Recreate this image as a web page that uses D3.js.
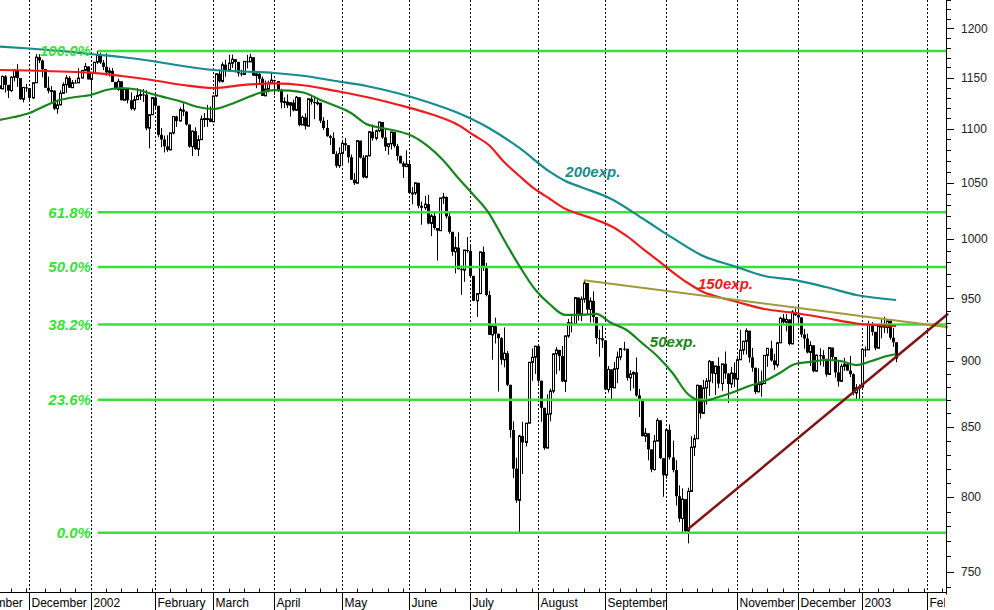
<!DOCTYPE html>
<html><head><meta charset="utf-8">
<script src="https://cdn.jsdelivr.net/npm/d3@7"></script>
<style>
html,body{margin:0;padding:0;background:#fff;}
svg{display:block;font-family:Arial,"Liberation Sans",sans-serif;}
</style></head>
<body><svg id="c" width="994" height="610"></svg>
<script>
// ---------- DATA ----------
// Daily bars [open, high, low, close], S&P 500, first bar 2001-11-15
const nov01 = [[1141.2,1146.5,1135.0,1142.2],[1142.2,1143.5,1129.9,1138.7],[1138.7,1152.0,1138.7,1151.1],[1151.1,1152.4,1135.2,1142.7],[1142.7,1142.7,1129.8,1137.0],[1137.0,1151.1,1135.9,1150.3],[1150.3,1157.9,1146.2,1157.4],[1157.4,1163.4,1140.8,1149.5],[1149.5,1149.5,1128.3,1128.5],[1128.5,1140.4,1125.5,1140.2],[1140.2,1143.6,1135.9,1139.5]];
const dec01 = [[1139.5,1139.5,1125.8,1129.9],[1129.9,1144.8,1128.9,1144.8],[1144.8,1173.6,1144.8,1170.4],[1170.4,1173.4,1164.4,1167.1],[1167.1,1167.9,1150.2,1158.3],[1158.3,1158.3,1139.7,1139.9],[1139.9,1150.9,1134.3,1136.8],[1136.8,1141.6,1125.8,1137.1],[1137.1,1137.1,1117.9,1119.4],[1119.4,1128.3,1114.5,1123.1],[1123.1,1137.3,1122.7,1134.4],[1134.4,1145.1,1134.4,1142.9],[1142.9,1152.4,1134.8,1149.6],[1149.6,1151.4,1139.9,1139.9],[1139.9,1147.5,1139.9,1144.9],[1144.9,1147.8,1144.6,1144.7],[1144.7,1159.2,1144.7,1149.4],[1149.4,1157.1,1149.4,1157.1],[1157.1,1164.6,1157.1,1161.0],[1161.0,1161.2,1148.0,1148.1]];
const jan02 = [[1148.1,1154.7,1136.2,1154.7],[1154.7,1165.3,1154.0,1165.3],[1165.3,1176.6,1163.4,1172.5],[1172.5,1175.0,1163.6,1164.9],[1164.9,1167.6,1157.5,1160.7],[1160.7,1174.3,1151.9,1155.1],[1155.1,1159.9,1150.9,1156.6],[1156.6,1159.4,1145.5,1145.6],[1145.6,1145.6,1138.2,1138.4],[1138.4,1148.8,1136.9,1146.2],[1146.2,1146.2,1127.5,1127.6],[1127.6,1139.3,1127.6,1138.9],[1138.9,1138.9,1124.5,1127.6],[1127.6,1135.3,1117.9,1119.3],[1119.3,1131.9,1117.4,1128.2],[1128.2,1139.5,1128.2,1132.2],[1132.2,1138.3,1127.8,1133.3],[1133.3,1138.6,1126.0,1133.1],[1133.1,1137.5,1098.7,1100.6],[1100.6,1113.8,1081.7,1113.6],[1113.6,1130.2,1113.3,1130.2]];
const feb02 = [[1130.2,1132.0,1118.3,1122.2],[1122.2,1122.2,1092.3,1094.4],[1094.4,1100.9,1082.6,1090.0],[1090.0,1093.6,1077.8,1083.5],[1083.5,1094.0,1078.4,1080.2],[1080.2,1096.3,1079.9,1096.2],[1096.2,1112.0,1094.7,1111.9],[1111.9,1112.7,1102.0,1107.5],[1107.5,1120.6,1107.5,1118.5],[1118.5,1124.7,1112.3,1116.5],[1116.5,1117.1,1103.2,1104.2],[1104.2,1104.2,1082.2,1083.3],[1083.3,1098.3,1074.4,1097.9],[1097.9,1101.5,1080.2,1080.9],[1080.9,1093.9,1074.4,1089.8],[1089.8,1112.7,1089.8,1109.4],[1109.4,1115.1,1101.7,1109.9],[1109.9,1123.1,1102.0,1109.9],[1109.9,1121.6,1106.7,1106.7]];
const mar02 = [[1106.7,1131.8,1106.7,1131.8],[1131.8,1153.8,1130.9,1153.8],[1153.8,1157.7,1144.8,1146.1],[1146.1,1165.3,1145.1,1162.8],[1162.8,1167.9,1150.7,1157.5],[1157.5,1172.8,1157.5,1164.3],[1164.3,1173.0,1159.6,1168.3],[1168.3,1168.3,1155.0,1165.6],[1165.6,1165.6,1151.0,1154.1],[1154.1,1157.8,1151.1,1153.0],[1153.0,1166.5,1153.0,1166.2],[1166.2,1172.7,1159.1,1165.6],[1165.6,1173.9,1165.6,1170.3],[1170.3,1170.3,1151.6,1151.9],[1151.9,1155.1,1139.5,1153.6],[1153.6,1156.5,1144.6,1148.7],[1148.7,1151.0,1131.9,1131.9],[1131.9,1147.0,1131.6,1138.5],[1138.5,1146.9,1135.3,1144.6],[1144.6,1154.5,1144.6,1147.4]];
const apr02 = [[1147.4,1147.8,1132.9,1146.5],[1146.5,1146.5,1135.7,1136.8],[1136.8,1138.9,1119.7,1125.4],[1125.4,1130.5,1120.1,1126.3],[1126.3,1133.3,1120.0,1122.7],[1122.7,1125.4,1111.8,1125.3],[1125.3,1128.3,1116.7,1117.8],[1117.8,1131.8,1117.8,1130.5],[1130.5,1130.5,1102.4,1103.7],[1103.7,1112.8,1103.7,1111.0],[1111.0,1114.9,1099.4,1102.6],[1102.6,1129.4,1102.6,1129.0],[1129.0,1133.0,1123.4,1126.0],[1126.0,1130.5,1109.3,1124.7],[1124.7,1128.8,1122.6,1125.2],[1125.2,1125.2,1105.6,1107.8],[1107.8,1111.2,1098.9,1100.9],[1100.9,1108.5,1092.5,1093.1],[1093.1,1094.4,1084.8,1091.5],[1091.5,1096.8,1076.3,1076.3],[1076.3,1078.9,1063.6,1065.5],[1065.5,1082.6,1063.5,1076.9]];
const may02 = [[1076.9,1088.3,1065.3,1086.5],[1086.5,1091.4,1079.5,1084.6],[1084.6,1084.6,1068.2,1073.4],[1073.4,1075.9,1052.7,1052.7],[1052.7,1058.7,1048.0,1049.5],[1049.5,1088.9,1049.5,1088.9],[1088.9,1088.9,1072.2,1073.0],[1073.0,1075.4,1053.9,1054.9],[1054.9,1074.8,1053.9,1074.6],[1074.6,1097.7,1074.6,1097.3],[1097.3,1104.2,1088.9,1091.1],[1091.1,1099.3,1089.2,1098.2],[1098.2,1106.6,1096.8,1106.6],[1106.6,1106.6,1090.6,1091.9],[1091.9,1099.6,1079.3,1083.3],[1083.3,1086.2,1075.6,1086.0],[1086.0,1097.1,1080.6,1097.1],[1097.1,1097.1,1082.2,1083.8],[1083.8,1085.9,1070.3,1074.6],[1074.6,1074.8,1067.7,1067.7],[1067.7,1069.5,1054.3,1064.7],[1064.7,1079.9,1064.7,1067.1]];
const jun02 = [[1067.1,1070.7,1039.9,1040.7],[1040.7,1046.1,1030.5,1040.7],[1040.7,1050.1,1038.8,1049.9],[1049.9,1049.9,1026.9,1029.2],[1029.2,1033.0,1012.5,1027.5],[1027.5,1038.2,1025.5,1030.7],[1030.7,1039.0,1012.9,1013.6],[1013.6,1021.9,1002.6,1020.3],[1020.3,1023.5,1008.1,1009.6],[1009.6,1009.6,981.6,1007.3],[1007.3,1036.2,1007.3,1036.2],[1036.2,1040.8,1030.9,1037.1],[1037.1,1037.6,1017.9,1019.9],[1019.9,1023.3,1004.6,1006.3],[1006.3,1006.3,985.7,989.1],[989.1,1002.1,970.9,992.7],[992.7,1005.9,974.2,974.3],[974.3,977.4,952.9,973.5],[973.5,990.7,963.7,990.6],[990.6,1001.8,988.3,989.8]];
const jul02 = [[989.8,994.5,967.4,968.7],[968.7,968.7,947.8,948.1],[948.1,954.3,934.9,953.9],[953.9,989.1,953.9,989.0],[989.0,993.6,972.9,976.9],[976.9,979.6,951.7,952.8],[952.8,956.3,920.3,920.5],[920.5,929.2,900.9,927.4],[927.4,934.3,913.7,921.4],[921.4,921.4,876.5,917.9],[917.9,918.7,897.1,900.9],[900.9,926.5,895.0,906.0],[906.0,907.8,880.6,881.6],[881.6,881.6,842.1,847.8],[847.8,854.1,813.3,819.9],[819.9,827.7,796.1,797.7],[797.7,844.3,775.7,843.4],[843.4,853.8,816.1,838.7],[838.7,852.9,835.9,852.8],[852.8,898.9,852.8,898.9],[898.9,909.8,884.7,902.8],[902.8,911.6,889.9,911.6]];
const aug02 = [[911.6,911.6,882.5,884.7],[884.7,884.7,853.9,864.2],[864.2,864.2,833.4,834.6],[834.6,874.4,834.6,859.6],[859.6,878.7,854.1,876.8],[876.8,905.8,875.2,905.5],[905.5,910.8,889.7,908.6],[908.6,908.6,892.4,903.8],[903.8,911.7,883.6,884.2],[884.2,920.2,876.2,919.6],[919.6,933.3,918.2,930.3],[930.3,935.4,922.5,928.8],[928.8,951.2,928.8,950.7],[950.7,950.7,931.9,937.4],[937.4,951.6,931.4,949.4],[949.4,965.0,946.4,962.7],[962.7,962.7,937.2,940.9],[940.9,950.8,930.4,947.9],[947.9,955.8,930.4,934.8],[934.8,934.8,913.2,917.9],[917.9,924.6,903.3,917.8],[917.8,928.2,910.2,916.1]];
const sep02 = [[916.1,916.1,877.5,878.0],[878.0,896.1,875.7,893.4],[893.4,893.4,870.5,879.2],[879.2,899.1,879.2,893.9],[893.9,907.3,882.9,902.9],[902.9,909.9,900.5,909.6],[909.6,915.0,907.9,909.5],[909.5,909.5,884.8,886.9],[886.9,892.8,877.0,889.8],[889.8,891.8,878.9,891.1],[891.1,902.7,872.4,873.5],[873.5,878.5,857.4,869.5],[869.5,869.5,843.1,843.3],[843.3,849.3,839.1,845.4],[845.4,845.4,825.8,833.7],[833.7,833.7,817.4,819.3],[819.3,844.2,818.5,839.7],[839.7,856.6,839.7,854.9],[854.9,854.9,826.8,827.4],[827.4,827.4,800.2,815.3]];
const oct02 = [[815.3,847.9,812.8,847.9],[847.9,851.9,826.3,827.9],[827.9,840.0,817.3,818.9],[818.9,825.9,794.1,800.6],[800.6,808.2,782.9,785.3],[785.3,806.1,775.8,798.6],[798.6,798.6,775.8,776.8],[776.8,806.5,768.6,803.9],[803.9,843.3,803.9,835.3],[835.3,844.4,828.9,841.4],[841.4,881.3,841.4,881.3],[881.3,881.3,856.3,860.0],[860.0,885.4,860.0,879.2],[879.2,886.7,866.6,884.4],[884.4,900.7,873.1,899.7],[899.7,899.7,882.8,890.2],[890.2,896.1,873.8,896.1],[896.1,902.9,879.0,882.5],[882.5,897.7,877.0,897.7],[897.7,907.4,886.2,890.2],[890.2,890.6,867.9,882.2],[882.2,895.3,879.2,890.7],[890.7,898.8,879.8,885.8]];
const nov02 = [[885.8,903.4,877.7,900.9],[900.9,924.6,900.9,908.4],[908.4,915.8,904.9,915.4],[915.4,925.7,905.0,923.8],[923.8,923.8,898.7,902.7],[902.7,910.1,891.6,894.7],[894.7,894.7,874.6,876.2],[876.2,894.3,876.2,882.5],[882.5,892.5,872.5,882.5],[882.5,904.3,882.5,904.3],[904.3,910.2,895.4,909.8],[909.8,915.9,899.5,900.4],[900.4,905.5,893.1,896.7],[896.7,915.0,894.9,914.2],[914.2,935.1,914.2,933.8],[933.8,937.2,928.4,930.6],[930.6,937.2,923.3,932.9],[932.9,932.9,912.1,913.3],[913.3,940.4,913.3,938.9],[938.9,941.8,935.6,936.3]];
const dec02 = [[936.3,944.0,929.5,934.5],[934.5,934.5,918.7,920.8],[920.8,925.3,909.5,917.6],[917.6,921.5,905.9,906.6],[906.6,915.5,896.0,912.2],[912.2,912.2,891.1,892.0],[892.0,904.9,892.0,904.5],[904.5,909.9,896.5,904.4],[904.4,908.4,895.6,901.6],[901.6,901.6,887.8,889.5],[889.5,910.4,889.5,910.4],[910.4,910.4,900.0,903.0],[903.0,903.0,887.1,891.1],[891.1,899.2,880.3,884.2],[884.2,897.8,884.2,895.8],[895.8,902.4,892.3,897.4],[897.4,897.4,892.3,892.5],[892.5,903.9,887.5,889.7],[889.7,890.5,873.6,875.4],[875.4,882.1,870.2,879.4],[879.4,881.9,869.5,879.8]];
const jan03 = [[879.8,909.0,879.8,909.0],[909.0,911.3,903.1,908.6],[908.6,931.8,908.6,929.0],[929.0,930.8,919.9,922.9],[922.9,922.9,908.3,909.9],[909.9,928.3,909.9,927.6],[927.6,932.9,917.7,927.6],[927.6,935.1,922.1,926.3],[926.3,931.7,921.7,931.7],[931.7,932.6,916.7,918.2],[918.2,926.0,911.0,914.6],[914.6,914.6,899.0,901.8]];
const firstBarDate = "2001-11-15";

// Exchange holidays (calendar of sessions)
const holidays = ["2001-11-22","2001-12-25","2002-01-01","2002-01-21","2002-02-18","2002-03-29","2002-05-27","2002-07-04","2002-09-02","2002-11-28","2002-12-25","2003-01-01","2003-01-20","2003-02-17"];
// Month labels, one per month start from Nov 2001 (October skipped: no room)
const monthLabels = ["November","December","2002","February","March","April","May","June","July","August","September","","November","December","2003","February"];

// Exponential moving averages; session number counted from 2001-12-03
const ema200Sessions = [-10,0,10,20,30,40,50,60,70,80,90,100,110,120,130,140,150,160,170,175,180,190,200,210,220,230,240,250,260,270,283];
const ema200 = [1181.3,1179.2,1176.7,1173.6,1170.6,1166.5,1161.5,1157.5,1156.0,1154.5,1151.5,1146.5,1141.6,1134.7,1125.9,1115.2,1100.9,1082.0,1059.8,1051.5,1046.1,1035.3,1018.4,1001.0,985.5,977.0,968.6,965.2,959.4,952.8,948.7];
const ema150Sessions = [-10,0,10,20,30,40,50,60,70,80,90,100,110,120,130,140,145,150,155,160,165,170,175,180,185,190,195,200,205,210,215,220,225,230,240,250,260,270,283];
const ema150 = [1157.5,1157.0,1156.0,1154.8,1151.5,1147.5,1142.6,1139.6,1142.6,1144.1,1142.1,1136.7,1130.8,1123.5,1115.2,1103.7,1094.2,1084.8,1069.0,1056.1,1044.3,1035.3,1026.5,1021.5,1016.8,1011.2,1002.7,992.3,982.1,971.9,962.7,955.3,951.2,947.9,941.3,938.1,934.0,929.6,927.6];
const ema50Sessions = [-10,-5,0,5,10,15,20,25,30,35,40,45,50,55,60,65,70,75,80,85,90,95,100,105,110,115,120,125,130,135,140,145,150,155,160,165,170,175,180,185,190,195,200,205,210,215,220,225,230,235,240,245,250,255,260,265,270,275,280,283];
const ema50 = [1108.5,1111.4,1115.2,1122.0,1127.8,1130.8,1132.7,1137.6,1139.6,1138.1,1133.7,1129.8,1125.9,1121.0,1119.1,1123.0,1128.8,1134.7,1137.6,1137.1,1134.7,1127.8,1122.0,1115.2,1104.7,1100.9,1098.0,1093.3,1083.9,1070.8,1054.3,1038.9,1022.8,999.2,977.0,957.8,945.0,936.5,936.5,937.3,930.0,924.4,914.1,903.8,890.6,874.6,869.3,872.3,876.1,880.7,884.5,890.6,897.6,899.2,900.7,899.9,896.8,899.9,903.8,905.4];
const emaLabelText = ["200exp.","150exp.","50exp."];
const emaLabelSession = [175, 218.3, 202.6];
const emaLabelValue = [1055.2, 957.8, 910.5];

// Fibonacci retracement
const fibLabels = ["100.0%","61.8%","50.0%","38.2%","23.6%","0.0%"];
const fibPrices = [1176.6,1023.5,976.1,928.8,870.3,775.7];
const fibStartSession = 22; // 2002-01-04 high

// Trend lines [session, price]
const resistanceLine = [[181,965.0],[300,926.5]];
const supportLine = [[215,778.0],[300,937.4]];

// Price axis
const priceTicksMajor = [750,800,850,900,950,1000,1050,1100,1150,1200];

// ---------- CHART ----------
const W = 994, H = 610, plotRight = 946, axisY = 592.5;
const svg = d3.select("#c");

// trading calendar
const cal = [];
for (let t = Date.UTC(2001,10,1); t <= Date.UTC(2003,1,28); t += 864e5) {
  const d = new Date(t), wd = d.getUTCDay(), s = d.toISOString().slice(0,10);
  if (wd === 0 || wd === 6 || holidays.includes(s)) continue;
  cal.push(s);
}
const base = cal.indexOf("2001-12-03");
const sess = k => base + k;
const first = cal.indexOf(firstBarDate);

const x = d3.scaleLinear().domain([sess(-9.634), sess(299.31)]).range([0, plotRight]);
const y = d3.scaleLog().domain([750, 1200]).range([571.7, 28.3]);

const all = [].concat(nov01,dec01,jan02,feb02,mar02,apr02,may02,jun02,jul02,aug02,sep02,oct02,nov02,dec02,jan03);
const bars = all.map((d,i) => ({i: first + i, o:d[0], h:d[1], l:d[2], c:d[3]}));

const defs = svg.append("defs");
defs.append("clipPath").attr("id","plotClip").append("rect").attr("x",0).attr("y",0).attr("width",plotRight).attr("height",axisY);
defs.append("clipPath").attr("id","labClip").append("rect").attr("x",0).attr("y",axisY).attr("width",plotRight-1).attr("height",H-axisY);

// month starts
const monthStarts = [];
cal.forEach((s,i) => { if (i === 0 || s.slice(0,7) !== cal[i-1].slice(0,7)) monthStarts.push(i); });

const plot = svg.append("g").attr("clip-path","url(#plotClip)");

// dashed month grid lines
plot.selectAll("line.grid").data(monthStarts).join("line").attr("class","grid")
  .attr("x1", d => Math.round(x(d))+0.5).attr("x2", d => Math.round(x(d))+0.5)
  .attr("y1", 0).attr("y2", axisY)
  .attr("stroke","#000").attr("stroke-width",1).attr("stroke-dasharray","2,2");

// candles
const cg = plot.append("g");
const cand = cg.selectAll("g").data(bars).join("g");
cand.append("line")
  .attr("x1", d => Math.round(x(d.i))+0.5).attr("x2", d => Math.round(x(d.i))+0.5)
  .attr("y1", d => y(d.h)).attr("y2", d => y(d.l))
  .attr("stroke","#000").attr("stroke-width",1);
cand.append("rect")
  .attr("x", d => d.c >= d.o ? Math.round(x(d.i))-0.5 : Math.round(x(d.i))-1)
  .attr("width", d => d.c >= d.o ? 2 : 3)
  .attr("y", d => y(Math.max(d.o,d.c)))
  .attr("height", d => Math.max(1, y(Math.min(d.o,d.c)) - y(Math.max(d.o,d.c))))
  .attr("fill", d => d.c >= d.o ? "#fff" : "#000")
  .attr("stroke", d => d.c >= d.o ? "#000" : "none")
  .attr("stroke-width",1);

// fib lines
const fibColor = "#38e038";
plot.selectAll("line.fib").data(fibPrices).join("line").attr("class","fib")
  .attr("x1", x(sess(fibStartSession))+1).attr("x2", plotRight)
  .attr("y1", d => y(d)).attr("y2", d => y(d))
  .attr("stroke", fibColor).attr("stroke-width",2.5);
svg.selectAll("text.fib").data(fibLabels).join("text").attr("class","fib")
  .attr("x", x(sess(fibStartSession))-6).attr("y", (d,i) => y(fibPrices[i]))
  .attr("dy","0.36em").attr("text-anchor","end")
  .attr("font-size","15px").attr("font-weight","bold").attr("font-style","italic")
  .attr("fill", fibColor).text(d => d);

// EMAs
const line = d3.line().x(d => x(sess(d[0]))).y(d => y(d[1])).curve(d3.curveMonotoneX);
const emaSets = [
  {s: ema200Sessions, v: ema200, color: "#168c8c"},
  {s: ema150Sessions, v: ema150, color: "#ec1c1c"},
  {s: ema50Sessions, v: ema50, color: "#16851c"}
];
emaSets.forEach(e => {
  plot.append("path").datum(e.s.map((s,i) => [s, e.v[i]]))
    .attr("d", line).attr("fill","none").attr("stroke", e.color).attr("stroke-width",2.2);
});
emaLabelText.forEach((t,i) => {
  svg.append("text").attr("x", x(sess(emaLabelSession[i]))).attr("y", y(emaLabelValue[i]))
    .attr("font-size","15px").attr("font-weight","bold").attr("font-style","italic")
    .attr("fill", emaSets[i].color).text(t);
});

// trend lines
const tl = d3.line().x(d => x(sess(d[0]))).y(d => y(d[1]));
svg.append("path").datum(resistanceLine).attr("d", tl).attr("stroke","#a09a38").attr("stroke-width",2).attr("fill","none");
svg.append("path").datum(supportLine).attr("d", tl).attr("stroke","#7e1414").attr("stroke-width",2.5).attr("fill","none");

// X axis
const ax = svg.append("g");
ax.append("line").attr("x1",0).attr("x2",plotRight).attr("y1",axisY).attr("y2",axisY).attr("stroke","#000");
const weekTicks = [];
monthStarts.forEach((m,j) => {
  const next = j+1 < monthStarts.length ? monthStarts[j+1] : cal.length;
  for (let k = 5; m + k < next; k += 5) weekTicks.push(m + k);
});
ax.selectAll("line.wt").data(weekTicks.filter(d => x(d) >= 0 && x(d) <= plotRight)).join("line").attr("class","wt")
  .attr("x1", d => Math.round(x(d))+0.5).attr("x2", d => Math.round(x(d))+0.5)
  .attr("y1", axisY-4).attr("y2", axisY).attr("stroke","#000");
const lab = svg.append("g").attr("clip-path","url(#labClip)");
lab.selectAll("line").data(monthStarts).join("line")
  .attr("x1", d => Math.round(x(d))+0.5).attr("x2", d => Math.round(x(d))+0.5)
  .attr("y1", axisY).attr("y2", H).attr("stroke","#000");
lab.selectAll("text").data(monthStarts).join("text")
  .attr("x", d => Math.round(x(d))+2.5).attr("y", 607)
  .attr("font-size","12px").attr("fill","#000")
  .text((d,i) => monthLabels[i] || "");

// Y axis
const ay = svg.append("g");
ay.append("line").attr("x1",plotRight+0.5).attr("x2",plotRight+0.5).attr("y1",0).attr("y2",axisY+2).attr("stroke","#000");
const minor = d3.range(740, 1240, 10);
ay.selectAll("line.t").data(minor).join("line").attr("class","t")
  .attr("x1", plotRight).attr("x2", d => plotRight + (d % 50 === 0 ? 8 : 5))
  .attr("y1", d => Math.round(y(d))+0.5).attr("y2", d => Math.round(y(d))+0.5)
  .attr("stroke","#000");
ay.selectAll("text").data(priceTicksMajor).join("text")
  .attr("x", 961).attr("y", d => y(d)).attr("dy","0.36em")
  .attr("font-size","12px").attr("fill","#222").text(d => d);
</script>
</body></html>
